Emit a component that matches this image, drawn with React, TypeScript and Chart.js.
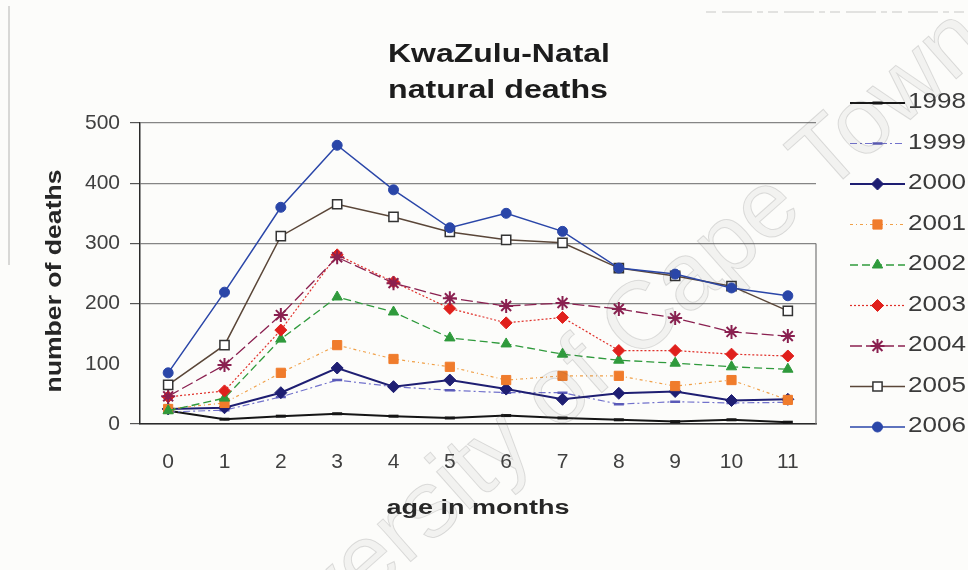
import React, { useEffect, useRef } from 'react';
import { Chart, registerables } from 'chart.js';

Chart.register(...registerables);

const chartTitle = ['KwaZulu-Natal', 'natural deaths'];
const xTitle = 'age in months';
const yTitle = 'number of deaths';
const watermark = 'University of Cape Town';

const months = ['0', '1', '2', '3', '4', '5', '6', '7', '8', '9', '10', '11'];
const years = ['1998', '1999', '2000', '2001', '2002', '2003', '2004', '2005', '2006'];
const yMin = 0;
const yMax = 500;
const yStep = 100;

const deaths1998 = [22, 8, 13, 17, 13, 10, 14, 10, 7, 4, 7, 3];
const deaths1999 = [20, 23, 45, 73, 62, 56, 52, 52, 33, 37, 35, 36];
const deaths2000 = [25, 27, 52, 93, 62, 73, 58, 41, 51, 54, 39, 41];
const deaths2001 = [25, 35, 85, 131, 108, 95, 73, 80, 80, 63, 73, 40];
const deaths2002 = [22, 43, 141, 211, 186, 143, 133, 116, 106, 101, 95, 91];
const deaths2003 = [45, 55, 156, 281, 236, 192, 168, 177, 122, 122, 116, 113];
const deaths2004 = [46, 98, 181, 277, 234, 209, 196, 201, 191, 176, 153, 146];
const deaths2005 = [65, 131, 312, 365, 344, 319, 306, 301, 259, 246, 229, 188];
const deaths2006 = [85, 219, 360, 463, 389, 326, 350, 320, 259, 249, 226, 213];

const seriesValues = [
  deaths1998, deaths1999, deaths2000, deaths2001, deaths2002,
  deaths2003, deaths2004, deaths2005, deaths2006,
];

type Style = {
  line: string; width: number; dash: number[]; point: string; radius: number;
  fill: string; stroke: string; pw: number;
};

const seriesStyle: Style[] = [
  { line: '#151515', width: 2, dash: [], point: 'line', radius: 5, fill: '#151515', stroke: '#151515', pw: 3 },
  { line: '#7272cc', width: 1.2, dash: [7, 3, 2, 3], point: 'line', radius: 5, fill: '#5a5ab8', stroke: '#5a5ab8', pw: 2.5 },
  { line: '#1e1e72', width: 2, dash: [], point: 'rectRot', radius: 6, fill: '#1e1e72', stroke: '#1e1e72', pw: 1 },
  { line: '#f0a048', width: 1.2, dash: [3, 3, 1, 3], point: 'rect', radius: 6.5, fill: '#f07c2c', stroke: '#f07c2c', pw: 1 },
  { line: '#2f9a3c', width: 1.3, dash: [8, 4], point: 'triangle', radius: 6, fill: '#2f9a3c', stroke: '#2f9a3c', pw: 1 },
  { line: '#e0302a', width: 1.2, dash: [2, 2], point: 'rectRot', radius: 6, fill: '#e0201c', stroke: '#e0201c', pw: 1 },
  { line: '#8a2050', width: 1.3, dash: [12, 4], point: 'star', radius: 7, fill: '#8a2050', stroke: '#8a2050', pw: 2 },
  { line: '#5a4638', width: 1.5, dash: [], point: 'rect', radius: 6.5, fill: '#ffffff', stroke: '#333333', pw: 1.5 },
  { line: '#2a46a8', width: 1.5, dash: [], point: 'circle', radius: 5, fill: '#2a46a8', stroke: '#2a46a8', pw: 1 },
];

const FONT = '"Liberation Sans", Arial, sans-serif';

function drawMarker(ctx: CanvasRenderingContext2D, s: Style, x: number, y: number) {
  const r = s.radius;
  ctx.save();
  ctx.setLineDash([]);
  ctx.lineWidth = s.pw;
  ctx.fillStyle = s.fill;
  ctx.strokeStyle = s.stroke;
  ctx.beginPath();
  switch (s.point) {
    case 'circle':
      ctx.arc(x, y, r, 0, Math.PI * 2);
      ctx.fill();
      ctx.stroke();
      break;
    case 'rect': {
      const h = r * Math.SQRT1_2;
      ctx.rect(x - h, y - h, 2 * h, 2 * h);
      ctx.fill();
      ctx.stroke();
      break;
    }
    case 'rectRot':
      ctx.moveTo(x - r, y);
      ctx.lineTo(x, y - r);
      ctx.lineTo(x + r, y);
      ctx.lineTo(x, y + r);
      ctx.closePath();
      ctx.fill();
      ctx.stroke();
      break;
    case 'triangle': {
      let a = 0;
      ctx.moveTo(x + Math.sin(a) * r, y - Math.cos(a) * r);
      a += (2 * Math.PI) / 3;
      ctx.lineTo(x + Math.sin(a) * r, y - Math.cos(a) * r);
      a += (2 * Math.PI) / 3;
      ctx.lineTo(x + Math.sin(a) * r, y - Math.cos(a) * r);
      ctx.closePath();
      ctx.fill();
      ctx.stroke();
      break;
    }
    case 'star':
      for (let k = 0; k < 4; k++) {
        const a = (k * Math.PI) / 4;
        ctx.moveTo(x - Math.cos(a) * r, y - Math.sin(a) * r);
        ctx.lineTo(x + Math.cos(a) * r, y + Math.sin(a) * r);
      }
      ctx.stroke();
      break;
    case 'line':
      ctx.moveTo(x - r, y);
      ctx.lineTo(x + r, y);
      ctx.stroke();
      break;
  }
  ctx.restore();
}

function stretchedText(
  ctx: CanvasRenderingContext2D, text: string, x: number, y: number,
  font: string, width: number, rot = 0, baseline: CanvasTextBaseline = 'alphabetic',
) {
  ctx.save();
  ctx.font = font;
  const w = ctx.measureText(text).width;
  ctx.translate(x, y);
  ctx.rotate(rot);
  ctx.scale(width / w, 1);
  ctx.textAlign = 'center';
  ctx.textBaseline = baseline;
  ctx.fillText(text, 0, 0);
  ctx.restore();
}

const framePlugin = {
  id: 'frame',
  beforeDatasetsDraw(chart: any) {
    const { ctx, chartArea, scales } = chart;
    ctx.save();
    ctx.strokeStyle = '#777777';
    ctx.lineWidth = 1.2;
    ctx.beginPath();
    ctx.moveTo(chartArea.right, scales.y.getPixelForValue(300));
    ctx.lineTo(chartArea.right, scales.y.getPixelForValue(0));
    ctx.stroke();
    // scan edge artefacts
    ctx.strokeStyle = 'rgba(120,120,120,0.55)';
    ctx.lineWidth = 1;
    ctx.beginPath();
    ctx.moveTo(9, 6);
    ctx.lineTo(9, 265);
    ctx.stroke();
    ctx.strokeStyle = 'rgba(150,150,150,0.5)';
    ctx.setLineDash([10, 6, 30, 5, 6, 5]);
    ctx.beginPath();
    ctx.moveTo(706, 12);
    ctx.lineTo(966, 12);
    ctx.stroke();
    ctx.restore();
  },
  afterDraw(chart: any) {
    const { ctx, chartArea } = chart;
    ctx.save();
    ctx.fillStyle = '#1c1c1c';
    stretchedText(ctx, chartTitle[0], 499, 62, `bold 26px ${FONT}`, 222);
    stretchedText(ctx, chartTitle[1], 498, 98, `bold 26px ${FONT}`, 220);
    ctx.fillStyle = '#262626';
    stretchedText(ctx, xTitle, 478, 514, `bold 20px ${FONT}`, 183);
    stretchedText(ctx, yTitle, 61, 281, `bold 22px ${FONT}`, 223, -Math.PI / 2);

    // legend
    const lx0 = chartArea.right + 34;
    const lx1 = chartArea.right + 89;
    const step = (chartArea.bottom + 3 - (chartArea.top - 20)) / (years.length - 1);
    years.forEach((yr, i) => {
      const s = seriesStyle[i];
      const y = chartArea.top - 20 + i * step;
      ctx.save();
      ctx.strokeStyle = s.line;
      ctx.lineWidth = s.width;
      ctx.setLineDash(s.dash);
      ctx.beginPath();
      ctx.moveTo(lx0, y);
      ctx.lineTo(lx1, y);
      ctx.stroke();
      ctx.restore();
      drawMarker(ctx, s, (lx0 + lx1) / 2, y);
      ctx.save();
      ctx.fillStyle = '#3a3a3a';
      ctx.font = `22px ${FONT}`;
      const w = ctx.measureText(yr).width;
      ctx.translate(lx1 + 3, y - 1);
      ctx.scale(58 / w, 1);
      ctx.textAlign = 'left';
      ctx.textBaseline = 'middle';
      ctx.fillText(yr, 0, 0);
      ctx.restore();
    });

    // watermark
    ctx.save();
    ctx.translate(590, 368);
    ctx.rotate((-41.5 * Math.PI) / 180);
    ctx.font = `95px ${FONT}`;
    ctx.textAlign = 'center';
    ctx.textBaseline = 'middle';
    ctx.fillStyle = 'rgba(90,90,90,0.06)';
    ctx.strokeStyle = 'rgba(90,90,90,0.18)';
    ctx.lineWidth = 1;
    ctx.fillText(watermark, 0, 0);
    ctx.strokeText(watermark, 0, 0);
    ctx.restore();
    ctx.restore();
  },
};

export default function App() {
  const ref = useRef<HTMLCanvasElement | null>(null);

  useEffect(() => {
    if (!ref.current) return;
    const n = years.length;
    const chart = new Chart(ref.current, {
      type: 'line',
      data: {
        labels: months,
        datasets: years.map((yr, i) => {
          const s = seriesStyle[i];
          return {
            label: yr,
            data: seriesValues[i],
            borderColor: s.line,
            borderWidth: s.width,
            borderDash: s.dash,
            pointStyle: s.point as any,
            pointRadius: s.radius,
            pointHoverRadius: s.radius,
            pointBackgroundColor: s.fill,
            pointBorderColor: s.stroke,
            pointBorderWidth: s.pw,
            tension: 0,
            fill: false,
            order: n - i,
          };
        }),
      },
      options: {
        responsive: false,
        animation: false,
        devicePixelRatio: 1,
        layout: { padding: { top: 123, right: 152, left: 0, bottom: 0 } },
        plugins: {
          legend: { display: false },
          title: { display: false },
          tooltip: { enabled: false },
        },
        scales: {
          x: {
            type: 'category',
            offset: true,
            grid: { display: false, drawTicks: false },
            border: { display: true, color: '#2a2a2a', width: 1.5 },
            ticks: {
              color: '#404040',
              font: { family: FONT, size: 21 },
              padding: 26,
              maxRotation: 0,
              autoSkip: false,
            },
            afterFit: (scale: any) => { scale.height = 146; },
          },
          y: {
            min: yMin,
            max: yMax,
            grid: {
              color: (c: any) => (c.tick && c.tick.value === 100 ? 'rgba(0,0,0,0)' : '#858585'),
              tickColor: (c: any) => (c.tick && c.tick.value === 100 ? 'rgba(0,0,0,0)' : '#555555'),
              lineWidth: 1.2,
              tickLength: 10,
            },
            border: { display: true, color: '#2a2a2a', width: 1.5 },
            ticks: {
              stepSize: yStep,
              color: '#404040',
              font: { family: FONT, size: 21 },
              padding: 10,
            },
            afterFit: (scale: any) => { scale.width = 140; },
          },
        },
      },
      plugins: [framePlugin],
    });
    return () => chart.destroy();
  }, []);

  return (
    <div
      style={{
        position: 'fixed', left: 0, top: 0, width: 968, height: 570,
        background: '#fcfcfa', overflow: 'hidden',
      }}
    >
      <canvas ref={ref} width={968} height={570} style={{ display: 'block' }} />
    </div>
  );
}
